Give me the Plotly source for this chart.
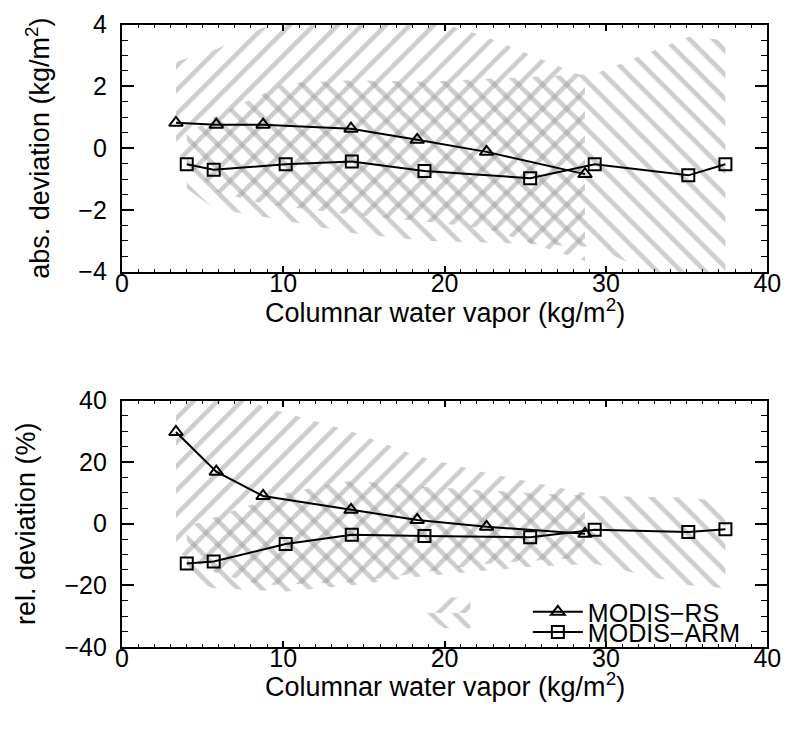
import plotly.graph_objects as go

# ---------------- data ----------------
x_rs = [3.35, 5.85, 8.75, 14.2, 18.3, 22.6, 28.7]
x_arm = [4.02, 5.69, 10.15, 14.25, 18.75, 25.3, 29.3, 35.1, 37.4]

# absolute deviation (kg/m2)
abs_rs = [0.82, 0.76, 0.76, 0.63, 0.27, -0.12, -0.84]
abs_arm = [-0.52, -0.70, -0.52, -0.43, -0.74, -0.97, -0.52, -0.88, -0.52]
abs_rs_hi = [2.8, 3.2, 3.9, 4.5, 4.3, 3.6, 2.3]
abs_rs_lo = [-0.1, -1.4, -1.8, -2.15, -2.35, -2.6, -3.65]
abs_arm_hi = [0.45, 1.0, 2.1, 2.2, 2.15, 2.3, 2.4, 3.6, 3.5]
abs_arm_lo = [-1.3, -1.95, -2.35, -2.75, -3.0, -3.1, -3.2, -4.6, -4.5]

# relative deviation (%)
rel_rs = [29.8, 16.9, 9.0, 4.5, 1.2, -1.0, -3.3]
rel_arm = [-12.9, -12.3, -6.6, -3.6, -4.0, -4.4, -2.0, -2.7, -1.8]
rel_rs_hi = [45, 45, 38, 30, 22, 16.5, 10]
rel_rs_lo = [-9, -16, -20, -19, -16, -13, -11]
rel_arm_hi = [-1, 2, 10, 14, 12, 10, 9, 8.5, 7]
rel_arm_lo = [-18, -21, -22, -20, -17, -14, -13, -20, -21]

# small stray hatched patch in the lower panel
patch_up_x = [18.6, 20.0, 21.6, 21.6]
patch_up_y = [-29, -24, -24, -29]
patch_dn_x = [18.6, 21.6, 21.6, 20.0]
patch_dn_y = [-29, -29, -34, -34]

names = ["MODIS\u2212RS", "MODIS\u2212ARM"]
x_title = "Columnar water vapor (kg/m<sup>2</sup>)"
y_titles = ["abs. deviation (kg/m<sup>2</sup>)", "rel. deviation (%)"]

# ---------------- figure ----------------
W, H = 795, 731
FONT = "Liberation Sans, Arial, Helvetica, sans-serif"
HATCH = "#9c9c9c"
FS = 25      # tick labels
FT = 27      # axis titles
FL = 25      # legend

fig = go.Figure()


def hatch(x, y, shape, xa, ya):
    fig.add_trace(go.Scatter(
        x=x, y=y, mode="lines", line=dict(width=0), fill="toself",
        fillcolor="rgba(0,0,0,0)",
        fillpattern=dict(shape=shape, fgcolor=HATCH, bgcolor="rgba(0,0,0,0)",
                         size=17, solidity=0.27),
        hoverinfo="skip", showlegend=False, xaxis=xa, yaxis=ya))


def band(x, lo, hi, shape, xa, ya):
    hatch(list(x) + list(x)[::-1], list(hi) + list(lo)[::-1], shape, xa, ya)


band(x_rs, abs_rs_lo, abs_rs_hi, "/", "x", "y")
band(x_arm, abs_arm_lo, abs_arm_hi, "\\", "x", "y")
band(x_rs, rel_rs_lo, rel_rs_hi, "/", "x2", "y2")
band(x_arm, rel_arm_lo, rel_arm_hi, "\\", "x2", "y2")
hatch(patch_up_x, patch_up_y, "/", "x2", "y2")
hatch(patch_dn_x, patch_dn_y, "\\", "x2", "y2")


def series(x, y, sym, name, xa, ya, legend, show):
    fig.add_trace(go.Scatter(
        x=x, y=y, mode="lines+markers", name=name,
        line=dict(color="black", width=2),
        marker=dict(symbol=sym, size=12, color="black",
                    line=dict(color="black", width=2)),
        xaxis=xa, yaxis=ya, showlegend=show, legend=legend))


series(x_rs, abs_rs, "triangle-up-open", names[0], "x", "y", "legend", False)
series(x_arm, abs_arm, "square-open", names[1], "x", "y", "legend2", False)
series(x_rs, rel_rs, "triangle-up-open", names[0], "x2", "y2", "legend", True)
series(x_arm, rel_arm, "square-open", names[1], "x2", "y2", "legend2", True)

xd = [118 / W, 781 / W]


def xax(anchor):
    return dict(
        domain=xd, anchor=anchor, range=[0, 40], dtick=10, tick0=0,
        ticks="inside", ticklen=6, tickwidth=1.5, tickcolor="black",
        minor=dict(dtick=1, ticks="inside", ticklen=3, tickwidth=1, tickcolor="black"),
        showline=True, linecolor="black", linewidth=2, mirror="allticks",
        showgrid=False, zeroline=False, ticklabelstandoff=-12,
        tickfont=dict(size=FS, color="black", family=FONT),
    )


def yax(anchor, dom, rng, dt, mdt, title):
    return dict(
        domain=dom, anchor=anchor, range=rng, dtick=dt, tick0=0,
        ticks="inside", ticklen=12, tickwidth=1.5, tickcolor="black",
        minor=dict(dtick=mdt, ticks="inside", ticklen=6, tickwidth=1, tickcolor="black"),
        showline=True, linecolor="black", linewidth=2, mirror="allticks",
        showgrid=False, zeroline=False, ticklabelstandoff=8,
        tickfont=dict(size=FS, color="black", family=FONT),
        title=dict(text=title, font=dict(size=FT, color="black", family=FONT), standoff=21),
    )


x_center = (xd[0] + xd[1]) / 2
annotations = [
    dict(text=x_title, x=x_center, y=1 - 309 / H, xref="paper", yref="paper",
         xanchor="center", yanchor="middle", showarrow=False,
         font=dict(size=FT, color="black", family=FONT)),
    dict(text=x_title, x=x_center, y=1 - 698 / H, xref="paper", yref="paper",
         xanchor="center", yanchor="middle", showarrow=False,
         font=dict(size=FT, color="black", family=FONT)),
]

fig.update_layout(
    width=W, height=H, margin=dict(l=0, r=0, t=0, b=0),
    paper_bgcolor="white", plot_bgcolor="white",
    font=dict(family=FONT, color="black", size=FS),
    xaxis=xax("y"),
    yaxis=yax("x", [1 - 268 / H, 1 - 11 / H], [-4, 4], 2, 0.5, y_titles[0]),
    xaxis2=xax("y2"),
    yaxis2=yax("x2", [1 - 658 / H, 1 - 402 / H], [-40, 40], 20, 5, y_titles[1]),
    annotations=annotations,
    legend=dict(x=535 / W, y=1 - 598 / H, xanchor="left", yanchor="top",
                bgcolor="rgba(0,0,0,0)", font=dict(size=FL, family=FONT),
                itemwidth=50, borderwidth=0),
    legend2=dict(x=535 / W, y=1 - 619 / H, xanchor="left", yanchor="top",
                 bgcolor="rgba(0,0,0,0)", font=dict(size=FL, family=FONT),
                 itemwidth=50, borderwidth=0),
    showlegend=True,
)

fig.write_html("out.html")
